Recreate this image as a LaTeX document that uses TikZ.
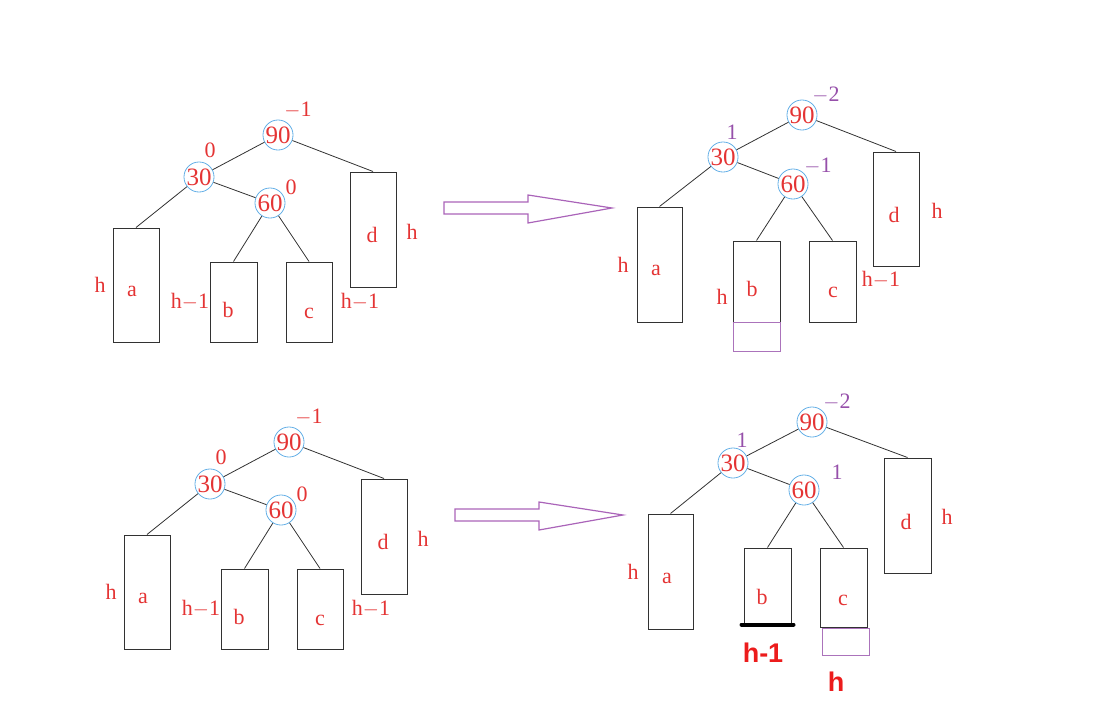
\documentclass[tikz,border=0pt]{standalone}
\usepackage{fontspec}
\setmainfont{Liberation Serif}
\newfontfamily\boldsans{Liberation Sans}
\definecolor{tred}{RGB}{228,52,52}
\definecolor{bred}{RGB}{236,28,28}
\definecolor{tpur}{RGB}{150,80,170}
\definecolor{cblue}{RGB}{100,175,230}
\definecolor{apur}{RGB}{170,100,185}
\definecolor{lgray}{RGB}{50,50,50}
\tikzset{
  key/.style={circle,draw=cblue,line width=0.8pt,minimum size=27pt,inner sep=0pt,text=tred,font=\fontsize{25}{25}\selectfont},
  box/.style={rectangle,draw=lgray,line width=1pt,inner sep=0pt},
  pbox/.style={rectangle,draw=tpur!80,line width=1pt,inner sep=0pt},
  lbl/.style={text=tred,font=\fontsize{22}{22}\selectfont,inner sep=0pt},
  bal/.style={text=tpur,font=\fontsize{22}{22}\selectfont,inner sep=0pt},
  edge/.style={draw=lgray,line width=0.8pt},
  bigarrow/.style={draw=apur,line width=1.2pt,line join=miter},
  hbold/.style={text=bred,font=\boldsans\bfseries\fontsize{27}{27}\selectfont,inner sep=0pt}
}
\newcommand\leftTree{%
  \node[key] (n90) at (278,135) {90};
  \node[key] (n30) at (199,177) {30};
  \node[key] (n60) at (270,203) {60};
  \node[box,minimum width=46pt,minimum height=114pt] (a) at (136,285) {};
  \node[box,minimum width=47pt,minimum height=80pt] (b) at (233.5,302) {};
  \node[box,minimum width=46pt,minimum height=80pt] (c) at (309,302) {};
  \node[box,minimum width=46pt,minimum height=115pt] (d) at (373,229.5) {};
  \draw[edge] (n90) -- (n30);
  \draw[edge] (n90) -- (d.north);
  \draw[edge] (n30) -- (a.north);
  \draw[edge] (n30) -- (n60);
  \draw[edge] (n60) -- (b.north);
  \draw[edge] (n60) -- (c.north);
  \node[lbl] (l90) at (298,110) {$-$1};
  \node[lbl] (l30) at (210,150) {0};
  \node[lbl] (l60) at (291,187) {0};
  \node[lbl] (ha) at (100,285) {h};
  \node[lbl] (ta) at (132,291) {a};
  \node[lbl] (hb) at (190,302) {h$-$1};
  \node[lbl] (tb) at (228,310) {b};
  \node[lbl] (tc) at (309,313) {c};
  \node[lbl] (hc) at (360,302) {h$-$1};
  \node[lbl] (td) at (372,235) {d};
  \node[lbl] (hd) at (412,232) {h};
  \coordinate (r1) at (444,202);
  \coordinate (r2) at (528,202);
  \coordinate (r3) at (528,195);
  \coordinate (r4) at (612,208);
  \coordinate (r5) at (528,223);
  \coordinate (r6) at (528,214);
  \coordinate (r7) at (444,214);
  \draw[bigarrow] (r1) -- (r2) -- (r3) -- (r4) -- (r5) -- (r6) -- (r7) -- cycle;
}
\begin{document}
\begin{tikzpicture}[x=1pt,y=-1pt]
\useasboundingbox (0,0) rectangle (1108,720);
\begin{scope}[name prefix=TL-]
  \leftTree
\end{scope}
\begin{scope}[name prefix=BL-,shift={(11,307)}]
  \leftTree
\end{scope}
% top right
\begin{scope}[name prefix=TR-]
  \node[key] (n90) at (802,115) {90};
  \node[key] (n30) at (723,157) {30};
  \node[key] (n60) at (793,184) {60};
  \node[box,minimum width=45pt,minimum height=115pt] (a) at (659.5,264.5) {};
  \node[box,minimum width=47pt,minimum height=81pt] (b) at (756.5,281.5) {};
  \node[pbox,minimum width=47pt,minimum height=29pt] (pb) at (756.5,336.5) {};
  \node[box,minimum width=47pt,minimum height=81pt] (c) at (832.5,281.5) {};
  \node[box,minimum width=46pt,minimum height=114pt] (d) at (896,209) {};
  \draw[edge] (n90) -- (n30);
  \draw[edge] (n90) -- (d.north);
  \draw[edge] (n30) -- (a.north);
  \draw[edge] (n30) -- (n60);
  \draw[edge] (n60) -- (b.north);
  \draw[edge] (n60) -- (c.north);
  \node[bal] (l90) at (826,95) {$-$2};
  \node[bal] (l30) at (732,132) {1};
  \node[bal] (l60) at (818,166) {$-$1};
  \node[lbl] (ha) at (623,265) {h};
  \node[lbl] (ta) at (656,270) {a};
  \node[lbl] (hb) at (722,297) {h};
  \node[lbl] (tb) at (752,289) {b};
  \node[lbl] (tc) at (833,292) {c};
  \node[lbl] (hc) at (881,280) {h$-$1};
  \node[lbl] (td) at (894,215) {d};
  \node[lbl] (hd) at (937,211) {h};
\end{scope}
% bottom right
\begin{scope}[name prefix=BR-]
  \node[key] (n90) at (812,422) {90};
  \node[key] (n30) at (733,463) {30};
  \node[key] (n60) at (804,490) {60};
  \node[box,minimum width=45pt,minimum height=115pt] (a) at (670.5,571.5) {};
  \node[box,minimum width=47pt,minimum height=76pt] (b) at (767.5,586) {};
  \node[box,minimum width=47pt,minimum height=79pt] (c) at (843.5,587.5) {};
  \node[pbox,minimum width=47pt,minimum height=27pt] (pc) at (845.5,641.5) {};
  \node[box,minimum width=47pt,minimum height=115pt] (d) at (907.5,515.5) {};
  \draw[black,line width=4pt,line cap=round] ([xshift=-2pt]b.south west) -- ([xshift=2pt]b.south east);
  \draw[edge] (n90) -- (n30);
  \draw[edge] (n90) -- (d.north);
  \draw[edge] (n30) -- (a.north);
  \draw[edge] (n30) -- (n60);
  \draw[edge] (n60) -- (b.north);
  \draw[edge] (n60) -- (c.north);
  \node[bal] (l90) at (837,402) {$-$2};
  \node[bal] (l30) at (742,440) {1};
  \node[bal] (l60) at (837,472) {1};
  \node[lbl] (ha) at (633,572) {h};
  \node[lbl] (ta) at (667,578) {a};
  \node[lbl] (tb) at (762,597) {b};
  \node[lbl] (tc) at (843,600) {c};
  \node[lbl] (td) at (906,522) {d};
  \node[lbl] (hd) at (947,517) {h};
  \node[hbold] (hm1) at (763,653) {h-1};
  \node[hbold] (hh) at (836,682) {h};
\end{scope}
\end{tikzpicture}
\end{document}
